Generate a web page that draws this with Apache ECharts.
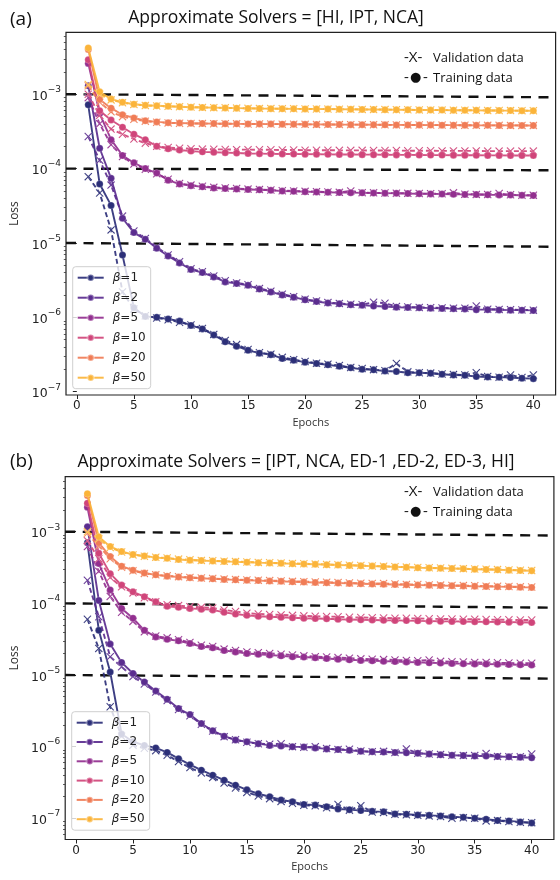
<!DOCTYPE html>
<html>
<head>
<meta charset="utf-8">
<script src="https://cdn.jsdelivr.net/npm/echarts@6/dist/echarts.min.js"></script>
<style>
  html, body { margin: 0; padding: 0; background: #fff; }
  #chart { width: 560px; height: 880px; }
</style>
</head>
<body>
<div id="chart"></div>
<script>
// ---- data -----------------------------------------------------------------
const epochs = [1,2,3,4,5,6,7,8,9,10,11,12,13,14,15,16,17,18,19,20,
                21,22,23,24,25,26,27,28,29,30,31,32,33,34,35,36,37,38,39,40];
const betaNames = ['β=1', 'β=2', 'β=5', 'β=10', 'β=20', 'β=50'];
const betaColors = ['#2c2f78', '#5b2d8f', '#922f8f', '#d0457a', '#f07c56', '#fbb43a'];
const epochTicks = [0, 5, 10, 15, 20, 25, 30, 35, 40];
const lossDecades = [1e-7, 1e-6, 1e-5, 1e-4, 1e-3];
const titleA = 'Approximate Solvers = [HI, IPT, NCA]';
const titleB = 'Approximate Solvers = [IPT, NCA, ED-1 ,ED-2, ED-3, HI]';

// dashed guide levels (left end, right end)
const guideStartA = [1e-3, 1e-4, 1e-5];
const guideEndA = [9.1e-4, 9.5e-5, 8.9e-6];
const guideStartB = [1e-3, 1e-4, 1e-5];
const guideEndB = [8.85e-4, 8.7e-5, 8.9e-6];

// panel (a)
const trainA1 = [7.2e-4, 6.2e-5, 3.2e-5, 6.9e-6, 1.35e-6, 1.03e-6, 1.0e-6, 9.5e-7, 8.9e-7, 7.8e-7,
 7.0e-7, 5.8e-7, 4.7e-7, 4.1e-7, 3.6e-7, 3.3e-7, 3.15e-7, 2.8e-7, 2.65e-7, 2.5e-7,
 2.4e-7, 2.3e-7, 2.2e-7, 2.1e-7, 2.0e-7, 1.97e-7, 1.9e-7, 1.87e-7, 1.8e-7, 1.8e-7,
 1.77e-7, 1.72e-7, 1.68e-7, 1.66e-7, 1.6e-7, 1.58e-7, 1.57e-7, 1.55e-7, 1.52e-7, 1.5e-7];
const valA1 = [7.8e-5, 4.7e-5, 1.5e-5, 2.2e-6, 1.3e-6, 1.05e-6, 9.8e-7, 9.3e-7, 8.6e-7, 7.9e-7,
 7.1e-7, 5.9e-7, 4.9e-7, 4.3e-7, 3.7e-7, 3.35e-7, 3.2e-7, 2.9e-7, 2.7e-7, 2.55e-7,
 2.42e-7, 2.35e-7, 2.25e-7, 2.12e-7, 2.05e-7, 1.98e-7, 1.92e-7, 2.4e-7, 1.85e-7, 1.8e-7,
 1.78e-7, 1.73e-7, 1.7e-7, 1.68e-7, 1.8e-7, 1.6e-7, 1.57e-7, 1.68e-7, 1.55e-7, 1.68e-7];
const trainA2 = [1.3e-3, 1.88e-4, 7.4e-5, 2.15e-5, 1.38e-5, 1.12e-5, 8.5e-6, 6.7e-6, 5.4e-6, 4.4e-6,
 4.0e-6, 3.5e-6, 3.0e-6, 2.85e-6, 2.7e-6, 2.4e-6, 2.2e-6, 2.0e-6, 1.87e-6, 1.72e-6,
 1.63e-6, 1.56e-6, 1.52e-6, 1.48e-6, 1.46e-6, 1.42e-6, 1.4e-6, 1.37e-6, 1.36e-6, 1.35e-6,
 1.33e-6, 1.32e-6, 1.31e-6, 1.3e-6, 1.27e-6, 1.27e-6, 1.26e-6, 1.25e-6, 1.25e-6, 1.24e-6];
const valA2 = [2.7e-4, 1.3e-4, 6.0e-5, 2.3e-5, 1.45e-5, 1.15e-5, 8.8e-6, 6.9e-6, 5.6e-6, 4.5e-6,
 4.1e-6, 3.6e-6, 3.1e-6, 2.9e-6, 2.75e-6, 2.45e-6, 2.25e-6, 2.05e-6, 1.9e-6, 1.75e-6,
 1.66e-6, 1.58e-6, 1.54e-6, 1.5e-6, 1.48e-6, 1.6e-6, 1.55e-6, 1.4e-6, 1.38e-6, 1.36e-6,
 1.35e-6, 1.34e-6, 1.33e-6, 1.33e-6, 1.42e-6, 1.29e-6, 1.28e-6, 1.27e-6, 1.26e-6, 1.25e-6];
const trainA5 = [2.6e-3, 5.5e-4, 2.45e-4, 1.5e-4, 1.2e-4, 1.0e-4, 8.7e-5, 7.0e-5, 6.2e-5, 5.9e-5,
 5.7e-5, 5.5e-5, 5.4e-5, 5.3e-5, 5.25e-5, 5.2e-5, 5.1e-5, 5.0e-5, 4.95e-5, 4.9e-5,
 4.85e-5, 4.8e-5, 4.78e-5, 4.75e-5, 4.72e-5, 4.7e-5, 4.68e-5, 4.65e-5, 4.62e-5, 4.6e-5,
 4.57e-5, 4.55e-5, 4.52e-5, 4.5e-5, 4.48e-5, 4.45e-5, 4.43e-5, 4.42e-5, 4.38e-5, 4.35e-5];
const valA5 = [9.0e-4, 4.0e-4, 2.1e-4, 1.45e-4, 1.15e-4, 9.8e-5, 8.5e-5, 7.2e-5, 6.3e-5, 6.0e-5,
 5.8e-5, 5.6e-5, 5.5e-5, 5.4e-5, 5.3e-5, 5.25e-5, 5.15e-5, 5.05e-5, 5.0e-5, 4.95e-5,
 4.9e-5, 4.85e-5, 4.8e-5, 5.0e-5, 4.75e-5, 4.72e-5, 4.7e-5, 4.68e-5, 4.65e-5, 4.62e-5,
 4.6e-5, 4.58e-5, 4.72e-5, 4.53e-5, 4.5e-5, 4.48e-5, 4.62e-5, 4.45e-5, 4.4e-5, 4.38e-5];
const trainA10 = [2.9e-3, 6.0e-4, 4.5e-4, 3.6e-4, 2.9e-4, 2.45e-4, 2.0e-4, 1.85e-4, 1.78e-4, 1.72e-4,
 1.68e-4, 1.66e-4, 1.64e-4, 1.62e-4, 1.6e-4, 1.59e-4, 1.58e-4, 1.575e-4, 1.57e-4, 1.565e-4,
 1.56e-4, 1.555e-4, 1.55e-4, 1.545e-4, 1.54e-4, 1.54e-4, 1.535e-4, 1.53e-4, 1.53e-4, 1.525e-4,
 1.52e-4, 1.52e-4, 1.515e-4, 1.51e-4, 1.51e-4, 1.505e-4, 1.505e-4, 1.5e-4, 1.5e-4, 1.5e-4];
const valA10 = [1.0e-3, 5.2e-4, 3.4e-4, 2.9e-4, 2.5e-4, 2.2e-4, 2.0e-4, 1.92e-4, 1.88e-4, 1.85e-4,
 1.83e-4, 1.82e-4, 1.81e-4, 1.8e-4, 1.8e-4, 1.79e-4, 1.79e-4, 1.78e-4, 1.78e-4, 1.77e-4,
 1.77e-4, 1.77e-4, 1.76e-4, 1.76e-4, 1.76e-4, 1.75e-4, 1.75e-4, 1.75e-4, 1.74e-4, 1.74e-4,
 1.74e-4, 1.73e-4, 1.73e-4, 1.73e-4, 1.73e-4, 1.72e-4, 1.72e-4, 1.72e-4, 1.72e-4, 1.72e-4];
const trainA20 = [4.0e-3, 8.5e-4, 6.5e-4, 5.3e-4, 4.8e-4, 4.4e-4, 4.25e-4, 4.15e-4, 4.1e-4, 4.07e-4,
 4.05e-4, 4.03e-4, 4.02e-4, 4.0e-4, 3.99e-4, 3.98e-4, 3.97e-4, 3.96e-4, 3.95e-4, 3.94e-4,
 3.93e-4, 3.92e-4, 3.91e-4, 3.9e-4, 3.9e-4, 3.89e-4, 3.88e-4, 3.87e-4, 3.86e-4, 3.86e-4,
 3.85e-4, 3.84e-4, 3.84e-4, 3.83e-4, 3.82e-4, 3.82e-4, 3.81e-4, 3.81e-4, 3.8e-4, 3.8e-4];
const valA20 = [1.3e-3, 7.8e-4, 5.8e-4, 5.0e-4, 4.6e-4, 4.35e-4, 4.2e-4, 4.12e-4, 4.08e-4, 4.05e-4,
 4.04e-4, 4.02e-4, 4.01e-4, 4.0e-4, 3.99e-4, 3.98e-4, 3.97e-4, 3.96e-4, 3.95e-4, 3.94e-4,
 3.93e-4, 3.92e-4, 3.91e-4, 3.9e-4, 3.9e-4, 3.89e-4, 3.88e-4, 3.87e-4, 3.87e-4, 3.86e-4,
 3.85e-4, 3.85e-4, 3.84e-4, 3.83e-4, 3.83e-4, 3.82e-4, 3.82e-4, 3.81e-4, 3.81e-4, 3.8e-4];
const trainA50 = [4.2e-3, 1.08e-3, 8.6e-4, 7.8e-4, 7.35e-4, 7.1e-4, 7.0e-4, 6.9e-4, 6.8e-4, 6.7e-4,
 6.65e-4, 6.6e-4, 6.55e-4, 6.5e-4, 6.45e-4, 6.42e-4, 6.4e-4, 6.38e-4, 6.36e-4, 6.35e-4,
 6.33e-4, 6.31e-4, 6.29e-4, 6.27e-4, 6.25e-4, 6.23e-4, 6.21e-4, 6.19e-4, 6.17e-4, 6.15e-4,
 6.13e-4, 6.12e-4, 6.1e-4, 6.09e-4, 6.07e-4, 6.06e-4, 6.04e-4, 6.03e-4, 6.01e-4, 6.0e-4];
const valA50 = [1.35e-3, 1.0e-3, 8.4e-4, 7.7e-4, 7.3e-4, 7.05e-4, 6.95e-4, 6.88e-4, 6.8e-4, 6.72e-4,
 6.66e-4, 6.6e-4, 6.56e-4, 6.51e-4, 6.46e-4, 6.43e-4, 6.41e-4, 6.39e-4, 6.37e-4, 6.35e-4,
 6.33e-4, 6.31e-4, 6.3e-4, 6.28e-4, 6.26e-4, 6.24e-4, 6.22e-4, 6.2e-4, 6.18e-4, 6.16e-4,
 6.14e-4, 6.12e-4, 6.11e-4, 6.09e-4, 6.08e-4, 6.06e-4, 6.05e-4, 6.03e-4, 6.02e-4, 6.0e-4];

// panel (b)
const trainB1 = [7.0e-4, 4.2e-5, 1.1e-5, 1.5e-6, 1.17e-6, 1.04e-6, 9.6e-7, 8.3e-7, 6.8e-7, 5.6e-7,
 4.7e-7, 4.0e-7, 3.4e-7, 2.9e-7, 2.5e-7, 2.2e-7, 2.0e-7, 1.8e-7, 1.7e-7, 1.56e-7,
 1.53e-7, 1.45e-7, 1.35e-7, 1.32e-7, 1.28e-7, 1.25e-7, 1.23e-7, 1.15e-7, 1.14e-7, 1.11e-7,
 1.1e-7, 1.08e-7, 1.05e-7, 1.03e-7, 1.0e-7, 9.7e-8, 9.3e-8, 9.2e-8, 8.9e-8, 8.6e-8];
const valB1 = [6.0e-5, 2.35e-5, 3.6e-6, 1.4e-6, 1.05e-6, 9.5e-7, 8.8e-7, 7.6e-7, 6.2e-7, 5.1e-7,
 4.3e-7, 3.7e-7, 3.1e-7, 2.65e-7, 2.3e-7, 2.05e-7, 1.88e-7, 1.72e-7, 1.62e-7, 1.52e-7,
 1.5e-7, 1.4e-7, 1.56e-7, 1.3e-7, 1.5e-7, 1.22e-7, 1.2e-7, 1.14e-7, 1.12e-7, 1.1e-7,
 1.08e-7, 1.06e-7, 1.0e-7, 1.02e-7, 1.0e-7, 9.2e-8, 9.3e-8, 9.0e-8, 8.8e-8, 8.7e-8];
const trainB2 = [1.17e-3, 1.1e-4, 2.7e-5, 1.5e-5, 1.05e-5, 8.0e-6, 6.0e-6, 4.6e-6, 3.4e-6, 2.8e-6,
 2.1e-6, 1.67e-6, 1.4e-6, 1.24e-6, 1.17e-6, 1.1e-6, 1.04e-6, 1.02e-6, 1.0e-6, 9.9e-7,
 9.6e-7, 9.3e-7, 9.1e-7, 8.9e-7, 8.6e-7, 8.5e-7, 8.4e-7, 8.3e-7, 8.2e-7, 8.1e-7,
 7.9e-7, 7.7e-7, 7.6e-7, 7.5e-7, 7.4e-7, 7.4e-7, 7.3e-7, 7.2e-7, 7.1e-7, 7.0e-7];
const valB2 = [2.1e-4, 6.5e-5, 1.8e-5, 1.3e-5, 9.5e-6, 7.5e-6, 5.8e-6, 4.4e-6, 3.3e-6, 2.7e-6,
 2.05e-6, 1.65e-6, 1.38e-6, 1.25e-6, 1.15e-6, 1.1e-6, 1.08e-6, 1.1e-6, 1.0e-6, 9.8e-7,
 1.0e-6, 9.4e-7, 9.1e-7, 9.2e-7, 8.7e-7, 8.5e-7, 8.6e-7, 8.3e-7, 9.3e-7, 8.1e-7,
 7.9e-7, 7.8e-7, 7.6e-7, 7.5e-7, 7.5e-7, 8.0e-7, 7.3e-7, 7.2e-7, 7.2e-7, 7.9e-7];
const trainB5 = [2.2e-3, 3.6e-4, 1.54e-4, 8.5e-5, 6.2e-5, 4.2e-5, 3.4e-5, 3.15e-5, 3.0e-5, 2.75e-5,
 2.5e-5, 2.4e-5, 2.2e-5, 2.1e-5, 2.0e-5, 1.95e-5, 1.9e-5, 1.85e-5, 1.8e-5, 1.78e-5,
 1.74e-5, 1.7e-5, 1.66e-5, 1.63e-5, 1.6e-5, 1.58e-5, 1.56e-5, 1.54e-5, 1.52e-5, 1.5e-5,
 1.48e-5, 1.47e-5, 1.45e-5, 1.44e-5, 1.43e-5, 1.42e-5, 1.41e-5, 1.4e-5, 1.39e-5, 1.38e-5];
const valB5 = [6.2e-4, 2.8e-4, 1.25e-4, 7.5e-5, 5.6e-5, 4.0e-5, 3.5e-5, 3.3e-5, 3.1e-5, 2.85e-5,
 2.6e-5, 2.5e-5, 2.3e-5, 2.2e-5, 2.1e-5, 2.05e-5, 2.0e-5, 1.95e-5, 1.9e-5, 1.85e-5,
 1.8e-5, 1.78e-5, 1.75e-5, 1.72e-5, 1.68e-5, 1.66e-5, 1.64e-5, 1.62e-5, 1.6e-5, 1.58e-5,
 1.62e-5, 1.55e-5, 1.53e-5, 1.52e-5, 1.5e-5, 1.5e-5, 1.48e-5, 1.47e-5, 1.46e-5, 1.46e-5];
const trainB10 = [2.5e-3, 5.0e-4, 2.6e-4, 1.8e-4, 1.45e-4, 1.24e-4, 1.05e-4, 9.1e-5, 8.8e-5, 8.5e-5,
 8.3e-5, 8.1e-5, 7.5e-5, 7.1e-5, 6.8e-5, 6.6e-5, 6.5e-5, 6.4e-5, 6.3e-5, 6.2e-5,
 6.15e-5, 6.1e-5, 6.0e-5, 5.95e-5, 5.9e-5, 5.85e-5, 5.8e-5, 5.78e-5, 5.75e-5, 5.7e-5,
 5.65e-5, 5.62e-5, 5.6e-5, 5.57e-5, 5.55e-5, 5.52e-5, 5.5e-5, 5.47e-5, 5.44e-5, 5.4e-5];
const valB10 = [7.5e-4, 4.2e-4, 2.3e-4, 1.7e-4, 1.4e-4, 1.2e-4, 1.05e-4, 9.6e-5, 9.3e-5, 9.0e-5,
 8.8e-5, 8.6e-5, 8.1e-5, 7.7e-5, 7.3e-5, 7.1e-5, 7.0e-5, 6.9e-5, 6.8e-5, 6.7e-5,
 6.6e-5, 6.55e-5, 6.5e-5, 6.4e-5, 6.35e-5, 6.3e-5, 6.25e-5, 6.2e-5, 6.2e-5, 6.15e-5,
 6.1e-5, 6.05e-5, 6.05e-5, 6.0e-5, 6.0e-5, 5.95e-5, 5.9e-5, 5.9e-5, 5.85e-5, 5.85e-5];
const trainB20 = [3.2e-3, 7.0e-4, 4.5e-4, 3.3e-4, 2.9e-4, 2.65e-4, 2.5e-4, 2.4e-4, 2.33e-4, 2.28e-4,
 2.24e-4, 2.2e-4, 2.16e-4, 2.13e-4, 2.1e-4, 2.08e-4, 2.05e-4, 2.03e-4, 2.0e-4, 1.98e-4,
 1.96e-4, 1.94e-4, 1.92e-4, 1.9e-4, 1.88e-4, 1.86e-4, 1.85e-4, 1.83e-4, 1.82e-4, 1.8e-4,
 1.79e-4, 1.77e-4, 1.76e-4, 1.75e-4, 1.73e-4, 1.72e-4, 1.71e-4, 1.7e-4, 1.68e-4, 1.67e-4];
const valB20 = [9.5e-4, 6.3e-4, 4.2e-4, 3.2e-4, 2.85e-4, 2.62e-4, 2.5e-4, 2.42e-4, 2.36e-4, 2.3e-4,
 2.26e-4, 2.22e-4, 2.18e-4, 2.15e-4, 2.12e-4, 2.1e-4, 2.08e-4, 2.06e-4, 2.03e-4, 2.01e-4,
 1.99e-4, 1.97e-4, 1.95e-4, 1.93e-4, 1.91e-4, 1.89e-4, 1.9e-4, 1.86e-4, 1.84e-4, 1.83e-4,
 1.81e-4, 1.8e-4, 1.78e-4, 1.77e-4, 1.76e-4, 1.74e-4, 1.73e-4, 1.72e-4, 1.7e-4, 1.69e-4];
const trainB50 = [3.4e-3, 8.5e-4, 6.2e-4, 5.3e-4, 4.8e-4, 4.6e-4, 4.35e-4, 4.25e-4, 4.1e-4, 4.0e-4,
 3.95e-4, 3.9e-4, 3.85e-4, 3.8e-4, 3.75e-4, 3.7e-4, 3.66e-4, 3.62e-4, 3.58e-4, 3.55e-4,
 3.51e-4, 3.47e-4, 3.43e-4, 3.39e-4, 3.35e-4, 3.31e-4, 3.27e-4, 3.23e-4, 3.19e-4, 3.15e-4,
 3.12e-4, 3.09e-4, 3.06e-4, 3.03e-4, 3.0e-4, 2.97e-4, 2.94e-4, 2.91e-4, 2.88e-4, 2.85e-4];
const valB50 = [1.0e-3, 8.0e-4, 6.0e-4, 5.2e-4, 4.75e-4, 4.55e-4, 4.4e-4, 4.3e-4, 4.15e-4, 4.05e-4,
 3.98e-4, 3.93e-4, 3.88e-4, 3.83e-4, 3.78e-4, 3.73e-4, 3.69e-4, 3.65e-4, 3.61e-4, 3.57e-4,
 3.53e-4, 3.49e-4, 3.45e-4, 3.41e-4, 3.37e-4, 3.33e-4, 3.29e-4, 3.25e-4, 3.21e-4, 3.17e-4,
 3.14e-4, 3.11e-4, 3.08e-4, 3.05e-4, 3.02e-4, 2.99e-4, 2.96e-4, 2.93e-4, 2.9e-4, 2.87e-4];

const trainA = [trainA1, trainA2, trainA5, trainA10, trainA20, trainA50];
const valA = [valA1, valA2, valA5, valA10, valA20, valA50];
const trainB = [trainB1, trainB2, trainB5, trainB10, trainB20, trainB50];
const valB = [valB1, valB2, valB5, valB10, valB20, valB50];

// ---- layout & helpers -----------------------------------------------------
const X_MIN = -0.95, X_MAX = 41.95;
const panels = [
  { grid: { left: 66, top: 32.3, width: 489.6, height: 362.7 }, yMin: -7.044, yMax: -2.167 },
  { grid: { left: 65.2, top: 476.7, width: 488.7, height: 362.8 }, yMin: -7.296, yMax: -2.232 }
];
const lg = Math.log10;
const crossPath = 'path://M1,0L5,4L9,0L10,1L6,5L10,9L9,10L5,6L1,10L0,9L4,5L0,1Z';
const TICK_FONT = 'DejaVu Sans';
const TEXT_FONT = 'Open Sans';

function minorTicks(lo, hi) {
  const out = [];
  for (let d = -9; d <= -2; d++) {
    for (let k = 2; k <= 9; k++) {
      const v = lg(k) + d;
      if (v > lo && v < hi) out.push(v);
    }
  }
  return out;
}

const decadeLogs = lossDecades.map(v => Math.round(lg(v)));

const xAxes = [], yAxes = [], series = [];
panels.forEach((p, gi) => {
  xAxes.push({
    type: 'value', gridIndex: gi, min: X_MIN, max: X_MAX,
    name: 'Epochs', nameLocation: 'middle', nameGap: 22,
    nameTextStyle: { fontFamily: TEXT_FONT, fontSize: 11, color: '#333' },
    axisLine: { show: false },
    axisTick: { show: true, customValues: epochTicks, length: 4, lineStyle: { color: '#222', width: 1 } },
    axisLabel: { customValues: epochTicks, margin: 5, fontFamily: TICK_FONT, fontSize: 12, color: '#222' },
    splitLine: { show: false }
  });
  yAxes.push({
    type: 'value', gridIndex: gi, position: 'left', min: p.yMin, max: p.yMax,
    name: 'Loss', nameLocation: 'middle', nameGap: 37, nameRotate: 90,
    nameTextStyle: { fontFamily: TEXT_FONT, fontSize: 12, color: '#333' },
    axisLine: { show: false },
    axisTick: { show: true, customValues: decadeLogs, length: 4, lineStyle: { color: '#222', width: 1 } },
    axisLabel: {
      customValues: decadeLogs, margin: 5,
      formatter: v => '{b|10}{s|\u2212' + Math.round(-v) + '}',
      rich: {
        b: { fontFamily: TICK_FONT, fontSize: 12.5, color: '#222', lineHeight: 18, verticalAlign: 'bottom' },
        s: { fontFamily: TICK_FONT, fontSize: 9, color: '#222', verticalAlign: 'top' }
      }
    },
    splitLine: { show: false }
  });
  yAxes.push({
    type: 'value', gridIndex: gi, position: 'left', offset: 0, min: p.yMin, max: p.yMax,
    axisLine: { show: false },
    axisTick: { show: true, customValues: minorTicks(p.yMin, p.yMax), length: 2.2, lineStyle: { color: '#333', width: 0.8 } },
    axisLabel: { show: false },
    splitLine: { show: false }
  });
});

function guideSeries(gi, starts, ends) {
  starts.forEach((s, i) => {
    series.push({
      type: 'line', xAxisIndex: gi, yAxisIndex: gi * 2, silent: true, z: 1,
      symbol: 'none', animation: false,
      data: [[X_MIN, lg(s)], [X_MAX, lg(ends[i])]],
      lineStyle: { color: '#111', width: 2.4, type: [10, 7.5] }
    });
  });
}
guideSeries(0, guideStartA, guideEndA);
guideSeries(1, guideStartB, guideEndB);

function lossSeries(gi, name, values, color, isVal, z) {
  series.push({
    type: 'line', name: name, xAxisIndex: gi, yAxisIndex: gi * 2, z: z,
    animation: false, showAllSymbol: true, clip: true,
    symbol: isVal ? crossPath : 'circle',
    symbolSize: isVal ? 8 : 7,
    data: values.map((v, i) => [epochs[i], lg(v)]),
    lineStyle: { color: color, width: 1.9, type: isVal ? [5, 3] : 'solid', opacity: 0.92 },
    itemStyle: { color: color, borderColor: 'rgba(255,255,255,0.35)', borderWidth: 0.6 }
  });
}
[[trainA, valA], [trainB, valB]].forEach(([tr, va], gi) => {
  betaNames.forEach((nm, k) => {
    lossSeries(gi, nm + ' val', va[k], betaColors[k], true, 2 + k * 2);
    lossSeries(gi, nm, tr[k], betaColors[k], false, 3 + k * 2);
  });
});

function betaLegend(left, top, gap) {
  return {
    left: left, top: top, orient: 'vertical', data: betaNames, selectedMode: false,
    itemWidth: 26, itemHeight: 8, itemGap: gap, padding: [4, 5, 4, 4],
    backgroundColor: 'rgba(255,255,255,0.8)', borderColor: '#cfcfcf', borderWidth: 1, borderRadius: 3,
    formatter: n => '{g|β}{t|' + n.slice(1) + '}',
    textStyle: {
      padding: [0, 0, 0, 4], lineHeight: 14,
      rich: {
        g: { fontFamily: TICK_FONT, fontStyle: 'italic', fontSize: 12, color: '#222' },
        t: { fontFamily: TICK_FONT, fontSize: 12, color: '#222' }
      }
    },
    z: 20
  };
}

function txt(text, x, y, size, align, family) {
  return { type: 'text', x: x, y: y, z: 50, silent: true,
    style: { text: text, font: size + 'px "' + (family || TEXT_FONT) + '"', fill: '#111',
             textAlign: align || 'left', textVerticalAlign: 'middle' } };
}

const graphics = [
  txt('(a)', 10, 20, 19),
  txt(titleA, 276, 18, 17.5, 'center'),
  txt('-X-', 404, 58, 15), txt('Validation data', 433, 58, 13),
  txt('-', 404, 78, 15), txt('●', 410, 78, 13, 'left', TICK_FONT), txt('-', 423, 78, 15), txt('Training data', 433, 78, 13),
  txt('(b)', 10, 462, 19),
  txt(titleB, 296, 462, 17.5, 'center'),
  txt('-X-', 404, 492, 15), txt('Validation data', 433, 492, 13),
  txt('-', 404, 512, 15), txt('●', 410, 512, 13, 'left', TICK_FONT), txt('-', 423, 512, 15), txt('Training data', 433, 512, 13)
];

const chart = echarts.init(document.getElementById('chart'), null, { renderer: 'canvas' });
chart.setOption({
  animation: false,
  backgroundColor: '#fff',
  grid: panels.map(p => Object.assign({ show: true, borderColor: '#222', borderWidth: 1.2, backgroundColor: 'transparent' }, p.grid)),
  xAxis: xAxes,
  yAxis: yAxes,
  legend: [betaLegend(72.7, 266.7, 6), betaLegend(71.7, 711.7, 5.3)],
  series: series,
  graphic: graphics
});
</script>
</body>
</html>
